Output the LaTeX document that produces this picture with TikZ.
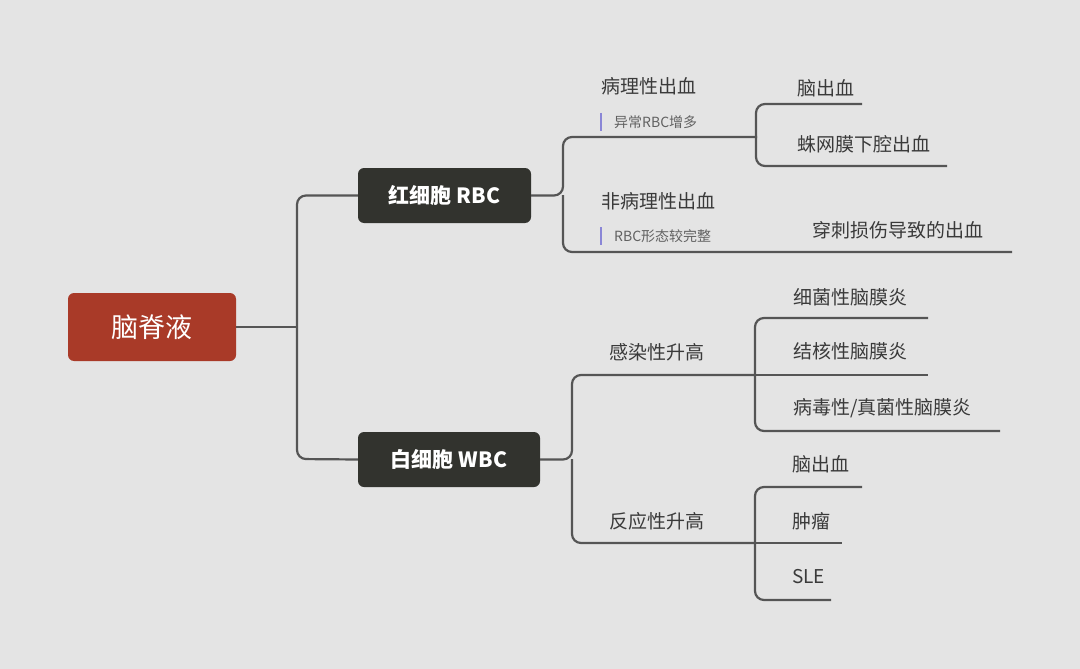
\documentclass[tikz,border=0pt]{standalone}
\usepackage{fontspec}
\setmainfont{Noto Sans CJK SC}
\definecolor{bg}{HTML}{E4E4E4}
\definecolor{rootred}{HTML}{A93A28}
\definecolor{boxdark}{HTML}{32332E}
\definecolor{ln}{HTML}{555555}
\definecolor{txt}{HTML}{3A3A3A}
\definecolor{bar}{HTML}{8A86D6}
\tikzset{
  conn/.style={draw=ln,line width=2.2pt,rounded corners=9pt},
  lbl/.style={anchor=west,inner sep=0pt,text=txt,font=\fontsize{19}{19}\selectfont},
  note/.style={anchor=west,inner sep=0pt,text=txt!80,font=\fontsize{14}{14}\selectfont},
  topic/.style={rounded corners=6pt,fill=boxdark,text=white,font=\bfseries\fontsize{21}{21}\selectfont,inner sep=0pt}
}
\begin{document}
\begin{tikzpicture}[x=1pt,y=-1pt]
\fill[bg](0,0)rectangle(1080,669);
\useasboundingbox(0,0)rectangle(1080,669);
% root and main topics
\node[rounded corners=6pt,fill=rootred,text=white,font=\fontsize{27}{27}\selectfont,minimum width=168pt,minimum height=68pt](root)at(152,327){脑脊液};
\node[topic,minimum width=173pt,minimum height=55pt](rbc)at(444.5,195.5){红细胞 RBC};
\node[topic,minimum width=182pt,minimum height=55pt](wbc)at(449,459.5){白细胞 WBC};
\draw[conn](root.east)--(297,327);
\draw[conn](rbc.west)-|(297,459)--(wbc.west);
% RBC branch
\coordinate(r1)at(757,137);\coordinate(r2)at(1012,252);
\draw[conn](rbc.east)--(563,195.5)|-(r1);
\draw[conn](563,195)|-(r2);
\node[lbl](patho)at(601,86){病理性出血};
\draw[bar,line width=2.5pt](601,113)--(601,131);
\node[note](pnote)at(614,122){异常RBC增多};
\node[lbl](nonpatho)at(601,201){非病理性出血};
\draw[bar,line width=2.5pt](601,227)--(601,245);
\node[note](nnote)at(614,236){RBC形态较完整};
\node[lbl](puncture)at(812,230){穿刺损伤导致的出血};
\node[lbl](bleed)at(797,88){脑出血};
\node[lbl](sah)at(797,144){蛛网膜下腔出血};
\coordinate(b1)at(862,104);\coordinate(b2)at(947,166);
\draw[conn](r1)++(-1,0)|-(b1);
\draw[conn](r1)++(-1,0)|-(b2);
% WBC branch
\coordinate(w1)at(755,375);\coordinate(w2)at(755,543);
\draw[conn](wbc.east)--(572,459.5)|-(w1);
\draw[conn](572,459)|-(w2);
\node[lbl](infect)at(609,352){感染性升高};
\node[lbl](react)at(609,521){反应性升高};
\coordinate(i1)at(928,318);\coordinate(i2)at(928,375);\coordinate(i3)at(1000,431);
\draw[conn](w1)|-(i1);\draw[conn](w1)--(i2);\draw[conn](w1)|-(i3);
\node[lbl]at(793,297){细菌性脑膜炎};
\node[lbl]at(793,351){结核性脑膜炎};
\node[lbl]at(793,408){病毒性/真菌性脑膜炎};
\coordinate(c1)at(862,487);\coordinate(c2)at(842,543);\coordinate(c3)at(831,600);
\draw[conn](w2)|-(c1);\draw[conn](w2)--(c2);\draw[conn](w2)|-(c3);
\node[lbl]at(792,464){脑出血};
\node[lbl]at(792,521){肿瘤};
\node[lbl]at(792,577){SLE};
\end{tikzpicture}
\end{document}
